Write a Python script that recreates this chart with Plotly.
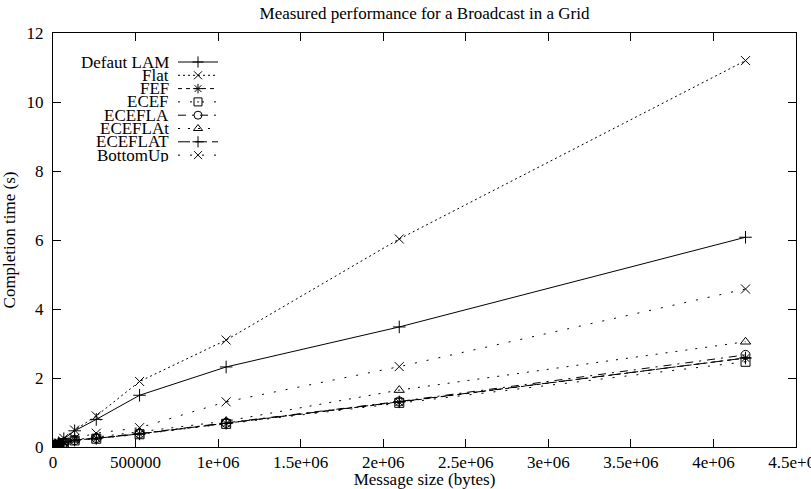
import plotly.graph_objects as go

# ---- data ----
sizes = [1024, 2048, 4096, 8192, 16384, 32768, 65536, 131072, 262144, 524288, 1048576, 2097152, 4194304]
defaut_lam = [0.01, 0.01, 0.02, 0.03, 0.06, 0.12, 0.24, 0.47, 0.80, 1.50, 2.32, 3.48, 6.08]
flat       = [0.01, 0.01, 0.02, 0.03, 0.06, 0.12, 0.25, 0.49, 0.90, 1.90, 3.10, 6.03, 11.20]
fef        = [0.01, 0.01, 0.01, 0.02, 0.04, 0.07, 0.12, 0.20, 0.25, 0.38, 0.68, 1.30, 2.58]
ecef       = [0.01, 0.01, 0.01, 0.02, 0.04, 0.07, 0.11, 0.19, 0.24, 0.37, 0.67, 1.28, 2.47]
ecefla     = [0.01, 0.01, 0.01, 0.02, 0.04, 0.07, 0.12, 0.20, 0.26, 0.39, 0.70, 1.32, 2.67]
eceflat_lc = [0.01, 0.01, 0.02, 0.03, 0.05, 0.08, 0.13, 0.21, 0.29, 0.44, 0.75, 1.65, 3.05]
eceflat_uc = [0.01, 0.01, 0.01, 0.02, 0.04, 0.07, 0.12, 0.20, 0.25, 0.38, 0.69, 1.31, 2.58]
bottomup   = [0.01, 0.01, 0.02, 0.03, 0.05, 0.09, 0.15, 0.25, 0.40, 0.56, 1.31, 2.33, 4.58]

names = ["Defaut LAM", "Flat", "FEF", "ECEF", "ECEFLA", "ECEFLAt", "ECEFLAT", "BottomUp"]
series = [defaut_lam, flat, fef, ecef, ecefla, eceflat_lc, eceflat_uc, bottomup]

x_tickvals = [0, 500000, 1000000, 1500000, 2000000, 2500000, 3000000, 3500000, 4000000, 4500000]
x_ticktext = ["0", "500000", "1e+06", "1.5e+06", "2e+06", "2.5e+06", "3e+06", "3.5e+06", "4e+06", "4.5e+06"]
y_tickvals = [0, 2, 4, 6, 8, 10, 12]
y_ticktext = ["0", "2", "4", "6", "8", "10", "12"]

# ---- styles ----
dashes = ["solid", "2px,3px", "4px,4px", "2px,10px", "8px,6px,2px,6px", "2px,8px", "12px,5px", "2px,10px"]
symbols = ["cross-thin-open", "x-thin-open", "asterisk-open", "square-open-dot",
           "circle-open", "triangle-up-open", "cross-thin-open", "x-thin-open"]
FONT = "Liberation Serif, Times New Roman, Times, serif"
FS = 17
W, H = 811, 489
ML, MR, MT, MB = 53, 15, 33, 42
PW, PH = W - ML - MR, H - MT - MB

fig = go.Figure()
for name, ys, d, s in zip(names, series, dashes, symbols):
    fig.add_trace(go.Scatter(
        x=sizes, y=ys, name=name, mode="lines+markers",
        line=dict(color="black", width=1, dash=d),
        marker=dict(symbol=s, size=9, color="black", line=dict(color="black", width=1)),
        showlegend=False,
    ))

# ---- custom gnuplot-style legend (text right, sample to the right) on a hidden pixel axis ----
leg_text_x = 117
leg_x0, leg_x1 = 125, 165
leg_y0, leg_dy = 29, 13.3
annotations = []
for i, (name, d, s) in enumerate(zip(names, dashes, symbols)):
    yy = leg_y0 + i * leg_dy
    fig.add_trace(go.Scatter(
        x=[leg_x0, leg_x1], y=[yy, yy], xaxis="x2", yaxis="y2", mode="lines",
        line=dict(color="black", width=1, dash=d), showlegend=False, hoverinfo="skip"))
    fig.add_trace(go.Scatter(
        x=[(leg_x0 + leg_x1) / 2], y=[yy], xaxis="x2", yaxis="y2", mode="markers",
        marker=dict(symbol=s, size=8, color="black", line=dict(color="black", width=1)),
        showlegend=False, hoverinfo="skip"))
    annotations.append(dict(x=leg_text_x, y=yy, xref="x2", yref="y2", text=name,
                            showarrow=False, xanchor="right", yanchor="middle",
                            borderpad=0, height=13,
                            font=dict(family=FONT, size=FS, color="black")))

axis_common = dict(showline=True, linecolor="black", linewidth=1, mirror="allticks",
                   ticks="inside", ticklen=8, tickwidth=1, tickcolor="black",
                   showgrid=False, zeroline=False, automargin=False,
                   ticklabeloverflow="allow",
                   tickfont=dict(family=FONT, size=FS, color="black"))

fig.update_layout(
    width=W, height=H,
    margin=dict(l=ML, r=MR, t=MT, b=MB),
    paper_bgcolor="white", plot_bgcolor="white",
    font=dict(family=FONT, size=FS, color="black"),
    title=dict(text="Measured performance for a Broadcast in a Grid", x=(ML + PW / 2) / W,
               xanchor="center", y=1 - 13 / H, yanchor="middle",
               font=dict(family=FONT, size=FS, color="black")),
    xaxis=dict(range=[0, 4500000], tickvals=x_tickvals, ticktext=x_ticktext,
               ticklabelstandoff=0,
               title=dict(text="Message size (bytes)", standoff=0,
                          font=dict(family=FONT, size=FS, color="black")),
               **axis_common),
    yaxis=dict(range=[0, 12], tickvals=y_tickvals, ticktext=y_ticktext,
               ticklabelstandoff=5,
               title=dict(text="Completion time (s)", standoff=10,
                          font=dict(family=FONT, size=FS, color="black")),
               **axis_common),
    xaxis2=dict(overlaying="x", range=[0, PW], visible=False, fixedrange=True),
    yaxis2=dict(overlaying="y", range=[PH, 0], visible=False, fixedrange=True),
    annotations=annotations,
    showlegend=False,
)

fig.write_html("out.html")
